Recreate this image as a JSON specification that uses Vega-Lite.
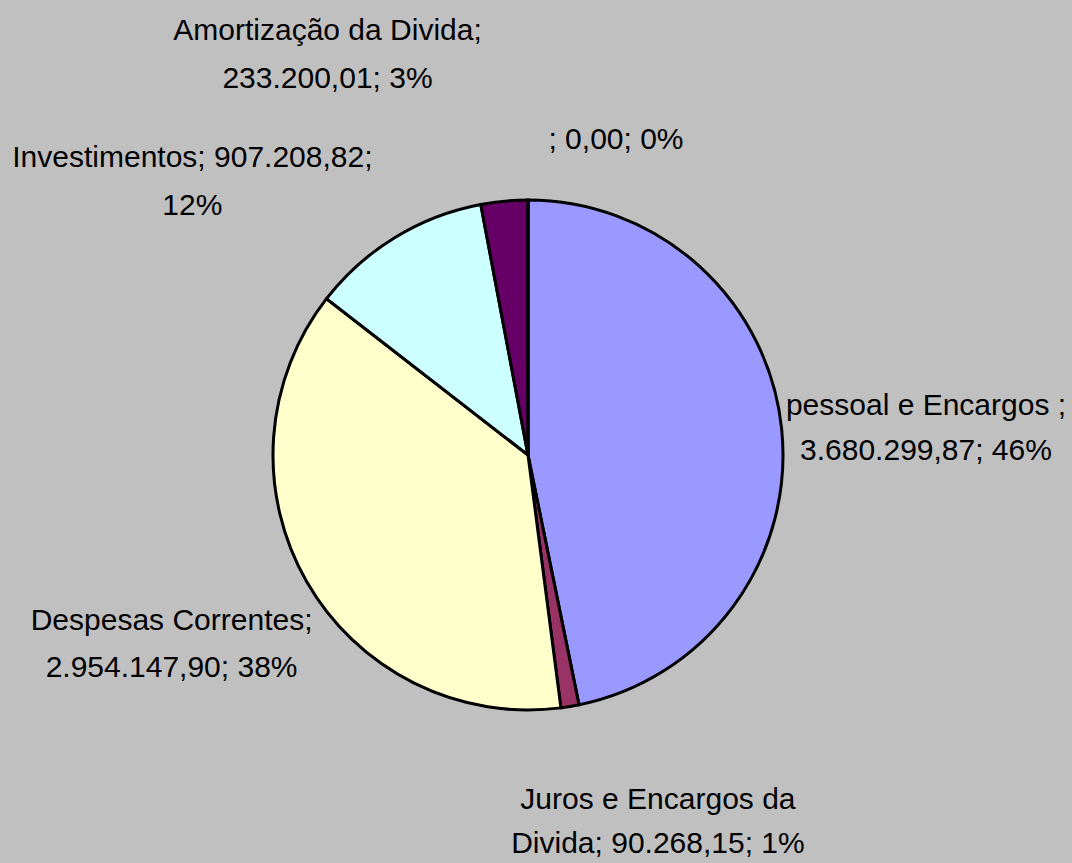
{
  "$schema": "https://vega.github.io/schema/vega-lite/v6.json",
  "width": 1056,
  "height": 816,
  "autosize": "none",
  "padding": {"left": 0, "top": 47, "right": 16, "bottom": 0},
  "background": "#c0c0c0",
  "config": {"view": {"stroke": null}},
  "data": {
    "values": [
      {"idx": 1, "cat": "pessoal e Encargos", "value": 3680299.87, "label": ["pessoal e Encargos ;", "3.680.299,87; 46%"]},
      {"idx": 2, "cat": "Juros e Encargos da Divida", "value": 90268.15, "label": ["Juros e Encargos da", "Divida; 90.268,15; 1%"]},
      {"idx": 3, "cat": "Despesas Correntes", "value": 2954147.90, "label": ["Despesas Correntes;", "2.954.147,90; 38%"]},
      {"idx": 4, "cat": "Investimentos", "value": 907208.82, "label": ["Investimentos; 907.208,82;", "12%"]},
      {"idx": 5, "cat": "Amortização da Divida", "value": 233200.01, "label": ["Amortização da Divida;", "233.200,01; 3%"]},
      {"idx": 6, "cat": "", "value": 0, "label": ["; 0,00; 0%"]}
    ]
  },
  "encoding": {
    "theta": {"field": "value", "type": "quantitative", "stack": true},
    "order": {"field": "idx", "type": "quantitative"}
  },
  "layer": [
    {
      "mark": {"type": "arc", "outerRadius": 255, "stroke": "#000000", "strokeWidth": 3},
      "encoding": {
        "color": {
          "field": "cat", "type": "nominal", "legend": null,
          "scale": {
            "domain": ["pessoal e Encargos", "Juros e Encargos da Divida", "Despesas Correntes", "Investimentos", "Amortização da Divida", ""],
            "range": ["#9999ff", "#993366", "#ffffcc", "#ccffff", "#660066", "#ffffff"]
          }
        }
      }
    },
    {
      "mark": {"type": "text", "radius": 400, "dy": -9, "font": "Liberation Sans", "fontSize": 30, "lineHeight": 45, "align": "center", "baseline": "middle", "color": "#000000"},
      "encoding": {"text": {"condition": {"test": "datum.idx == 1", "field": "label"}, "value": ""}}
    },
    {
      "mark": {"type": "text", "radius": 370, "dx": 69, "dy": -20, "font": "Liberation Sans", "fontSize": 30, "lineHeight": 44, "align": "center", "baseline": "middle", "color": "#000000"},
      "encoding": {"text": {"condition": {"test": "datum.idx == 2", "field": "label"}, "value": ""}}
    },
    {
      "mark": {"type": "text", "radius": 405, "dx": -5, "dy": -35, "font": "Liberation Sans", "fontSize": 30, "lineHeight": 47, "align": "center", "baseline": "middle", "color": "#000000"},
      "encoding": {"text": {"condition": {"test": "datum.idx == 3", "field": "label"}, "value": ""}}
    },
    {
      "mark": {"type": "text", "radius": 400, "dx": -127, "dy": 44, "font": "Liberation Sans", "fontSize": 30, "lineHeight": 48, "align": "center", "baseline": "middle", "color": "#000000"},
      "encoding": {"text": {"condition": {"test": "datum.idx == 4", "field": "label"}, "value": ""}}
    },
    {
      "mark": {"type": "text", "radius": 403, "dx": -163, "dy": -23, "font": "Liberation Sans", "fontSize": 30, "lineHeight": 48, "align": "center", "baseline": "middle", "color": "#000000"},
      "encoding": {"text": {"condition": {"test": "datum.idx == 5", "field": "label"}, "value": ""}}
    },
    {
      "mark": {"type": "text", "radius": 315, "dx": 88, "font": "Liberation Sans", "fontSize": 30, "align": "center", "baseline": "middle", "color": "#000000"},
      "encoding": {"text": {"condition": {"test": "datum.idx == 6", "field": "label"}, "value": ""}}
    }
  ]
}
